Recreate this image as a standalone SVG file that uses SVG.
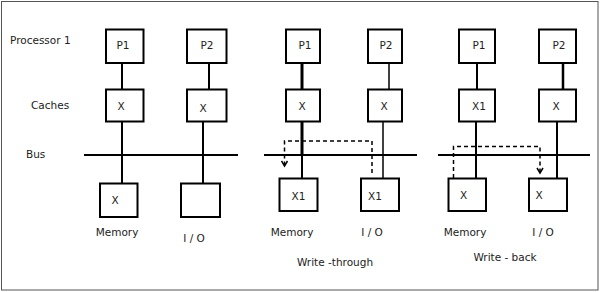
<svg xmlns="http://www.w3.org/2000/svg" width="600" height="292" viewBox="0 0 600 292">
<style>
  .box{fill:#fff;stroke:#000;stroke-width:2}
  .ln{stroke:#000;stroke-width:2;fill:none}
  .dash{stroke:#000;stroke-width:1.5;fill:none;stroke-dasharray:4 3}
  .t{font-family:"DejaVu Sans",Verdana,sans-serif;font-size:10.5px;fill:#222}
  .c{text-anchor:middle}
</style>
<defs>
  <marker id="v" markerWidth="8" markerHeight="8" refX="6" refY="4" orient="auto" markerUnits="userSpaceOnUse" viewBox="0 0 8 8">
    <path d="M1,1 L6,4 L1,7" fill="none" stroke="#000" stroke-width="1.5"/>
  </marker>
</defs>
<rect x="1.5" y="1.5" width="596.5" height="288.5" fill="#fff" stroke="#555" stroke-width="1"/>

<!-- row labels -->
<text class="t" x="10" y="44">Processor 1</text>
<text class="t" x="31" y="109">Caches</text>
<text class="t" x="26" y="158">Bus</text>

<!-- connectors -->
<g id="connectors">
  <!-- panel 1 -->
  <line class="ln" x1="84" y1="155" x2="238" y2="155"/>
  <line class="ln" x1="122" y1="63" x2="122" y2="89"/>
  <line class="ln" x1="122" y1="121.5" x2="122" y2="183"/>
  <line class="ln" x1="209" y1="63" x2="209" y2="89"/>
  <line class="ln" x1="203" y1="121.5" x2="203" y2="183"/>
  <!-- panel 2 -->
  <line class="ln" x1="264" y1="155" x2="417" y2="155"/>
  <line class="ln" x1="302" y1="63" x2="302" y2="89" style="stroke-width:3"/>
  <line class="ln" x1="302" y1="121.5" x2="302" y2="155" style="stroke-width:3"/>
  <line class="ln" x1="302" y1="155" x2="302" y2="178"/>
  <line class="ln" x1="389" y1="63" x2="389" y2="89" style="stroke-width:1.5"/>
  <line class="ln" x1="383" y1="121.5" x2="383" y2="178" style="stroke-width:1.5"/>
  <path class="dash" d="M372,173 V141 H284.5 V166" marker-end="url(#v)"/>
  <!-- panel 3 -->
  <line class="ln" x1="438" y1="155" x2="590" y2="155"/>
  <line class="ln" x1="477" y1="63" x2="477" y2="89"/>
  <line class="ln" x1="476" y1="121.5" x2="476" y2="178"/>
  <line class="ln" x1="563" y1="63" x2="563" y2="89" style="stroke-width:2.5"/>
  <line class="ln" x1="557" y1="121.5" x2="557" y2="178"/>
  <path class="dash" d="M453.5,178 V146.5 H540 V173" marker-end="url(#v)"/>
</g>

<!-- panel 1 nodes -->
<g id="p1-proc1"><rect class="box" x="106" y="29.5" width="37.5" height="33.5"/><text class="t c" x="123" y="49">P1</text></g>
<g id="p1-proc2"><rect class="box" x="187" y="29.5" width="39.5" height="33.5"/><text class="t c" x="207" y="49">P2</text></g>
<g id="p1-cache1"><rect class="box" x="106" y="89.5" width="37.5" height="32"/><text class="t c" x="121" y="110">X</text></g>
<g id="p1-cache2"><rect class="box" x="187" y="89.5" width="39.5" height="32"/><text class="t c" x="203" y="112">X</text></g>
<g id="p1-memory"><rect class="box" x="100" y="183.5" width="37.5" height="33.5"/><text class="t c" x="115" y="204">X</text></g>
<g id="p1-io"><rect class="box" x="181" y="183.5" width="39" height="33.5"/></g>
<text class="t c" x="117" y="236">Memory</text>
<text class="t c" x="194" y="242">I / O</text>

<!-- panel 2 nodes -->
<g id="p2-proc1"><rect class="box" x="286" y="29.5" width="34" height="33.5"/><text class="t c" x="305" y="49">P1</text></g>
<g id="p2-proc2"><rect class="box" x="368" y="29.5" width="34" height="33.5"/><text class="t c" x="386" y="49">P2</text></g>
<g id="p2-cache1"><rect class="box" x="286" y="89.5" width="34" height="32"/><text class="t c" x="302" y="110">X</text></g>
<g id="p2-cache2"><rect class="box" x="368" y="89.5" width="34" height="32"/><text class="t c" x="384" y="110">X</text></g>
<g id="p2-memory"><rect class="box" x="279.5" y="178.5" width="38" height="32.5"/><text class="t c" x="298.5" y="200">X1</text></g>
<g id="p2-io"><rect class="box" x="361" y="178.5" width="38" height="32.5"/><text class="t c" x="375" y="200">X1</text></g>
<text class="t c" x="292" y="236">Memory</text>
<text class="t c" x="372" y="236">I / O</text>
<text class="t c" x="335" y="266">Write -through</text>

<!-- panel 3 nodes -->
<g id="p3-proc1"><rect class="box" x="459" y="29.5" width="36" height="33.5"/><text class="t c" x="479" y="49">P1</text></g>
<g id="p3-proc2"><rect class="box" x="539" y="29.5" width="37" height="33.5"/><text class="t c" x="559" y="49">P2</text></g>
<g id="p3-cache1"><rect class="box" x="459" y="89.5" width="36" height="32"/><text class="t c" x="479" y="110">X1</text></g>
<g id="p3-cache2"><rect class="box" x="539" y="89.5" width="37" height="32"/><text class="t c" x="556" y="110">X</text></g>
<g id="p3-memory"><rect class="box" x="448.5" y="178.5" width="37.5" height="32.5"/><text class="t c" x="463.5" y="199">X</text></g>
<g id="p3-io"><rect class="box" x="529" y="178.5" width="38" height="32.5"/><text class="t c" x="539" y="199">X</text></g>
<text class="t c" x="465" y="236">Memory</text>
<text class="t c" x="543" y="236">I / O</text>
<text class="t c" x="505" y="261">Write - back</text>
</svg>
